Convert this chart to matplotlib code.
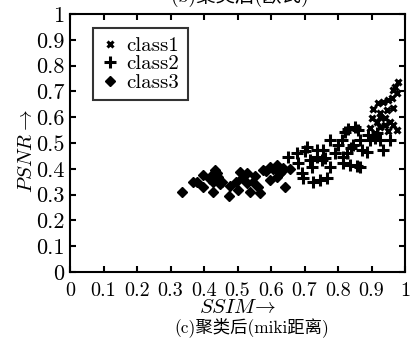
import matplotlib
matplotlib.use("Agg")
import matplotlib.pyplot as plt

# class3 (diamonds)
c3_x = [0.333, 0.368, 0.378, 0.398, 0.398, 0.418, 0.423, 0.428, 0.433, 0.443, 0.453,
        0.428, 0.438, 0.448, 0.478, 0.476, 0.507, 0.527, 0.497, 0.502, 0.527, 0.537,
        0.547, 0.562, 0.567, 0.577, 0.597, 0.617, 0.637, 0.597, 0.617, 0.627, 0.642,
        0.512, 0.552, 0.585, 0.607, 0.657, 0.632]
c3_y = [0.311, 0.348, 0.350, 0.376, 0.328, 0.361, 0.376, 0.350, 0.395, 0.369, 0.350,
        0.311, 0.385, 0.340, 0.333, 0.295, 0.389, 0.382, 0.350, 0.318, 0.344, 0.311,
        0.350, 0.331, 0.305, 0.395, 0.408, 0.415, 0.405, 0.357, 0.369, 0.382, 0.331,
        0.365, 0.372, 0.390, 0.398, 0.398, 0.392]

# class2 (plus)
c2_x = [0.652, 0.677, 0.682, 0.692, 0.697, 0.706, 0.716, 0.721, 0.726, 0.746, 0.766,
        0.736, 0.756, 0.736, 0.751, 0.776, 0.776, 0.791, 0.801, 0.811, 0.821, 0.831,
        0.851, 0.861, 0.816, 0.826, 0.816, 0.836, 0.856, 0.866, 0.846, 0.866, 0.871,
        0.886, 0.891, 0.896, 0.910, 0.915, 0.925, 0.935, 0.955, 0.700, 0.760, 0.840]
c2_y = [0.447, 0.460, 0.421, 0.382, 0.363, 0.486, 0.434, 0.408, 0.350, 0.357, 0.363,
        0.473, 0.473, 0.447, 0.434, 0.408, 0.512, 0.460, 0.492, 0.512, 0.544, 0.556,
        0.563, 0.550, 0.447, 0.460, 0.421, 0.415, 0.411, 0.406, 0.492, 0.512, 0.473,
        0.466, 0.531, 0.512, 0.518, 0.538, 0.512, 0.473, 0.512, 0.470, 0.440, 0.480]

# class1 (x)
c1_x = [0.900, 0.915, 0.925, 0.925, 0.940, 0.896, 0.910, 0.920, 0.935, 0.950, 0.960,
        0.925, 0.945, 0.965, 0.940, 0.955, 0.965, 0.975, 0.965, 0.975, 0.970, 0.980,
        0.905, 0.950]
c1_y = [0.596, 0.583, 0.602, 0.563, 0.570, 0.560, 0.540, 0.654, 0.660, 0.667, 0.673,
        0.615, 0.628, 0.634, 0.596, 0.583, 0.570, 0.550, 0.705, 0.693, 0.718, 0.738,
        0.630, 0.545]

plt.rcParams['font.family'] = ['cmr10', 'Noto Sans CJK SC']
plt.rcParams['mathtext.fontset'] = 'cm'
plt.rcParams['axes.unicode_minus'] = False

fig = plt.figure(figsize=(4.11, 3.41), dpi=100)
ax = fig.add_axes([70/411, 1-272/341, 335/411, 258/341])

ax.plot(c1_x, c1_y, 'x', color='black', markersize=4, markeredgewidth=2.2, label='class1')
ax.plot(c2_x, c2_y, '+', color='black', markersize=8, markeredgewidth=2.2, label='class2')
ax.plot(c3_x, c3_y, 'D', color='black', markersize=5.5, label='class3')

ax.set_xlim(0, 1)
ax.set_ylim(0, 1)
ticks = [i/10 for i in range(11)]
labels = ['0'] + ['0.%d' % i for i in range(1, 10)] + ['1']
ax.set_xticks(ticks)
ax.set_xticklabels(labels)
ax.set_yticks(ticks)
ax.set_yticklabels(labels)
ax.tick_params(direction='in', top=True, right=True, length=4, width=1.5)
ax.tick_params(axis='x', labelsize=14.5, pad=7)
ax.tick_params(axis='y', labelsize=16, pad=4)
for s in ax.spines.values():
    s.set_linewidth(1.5)

leg = ax.legend(loc='upper left', bbox_to_anchor=(0.069, 0.946), borderaxespad=0,
                fontsize=15, frameon=True, fancybox=False, edgecolor='black',
                handlelength=0.8, handletextpad=0.4, labelspacing=0.0, borderpad=0.4)
leg.get_frame().set_linewidth(1.5)

ax.set_xlabel(r'$SSIM\!\rightarrow$', fontsize=15, va='center')
ax.xaxis.set_label_coords(0.5, (272-308)/258)
ax.set_ylabel(r'$PSNR\rightarrow$', fontsize=15, va='center')
ax.yaxis.set_label_coords((27-70)/335, 0.47)

fig.text(252/411, 1-327/341, '(c)聚类后(miki距离)', fontsize=12.5, ha='center', va='center')
fig.text(240/411, 1+4/341, '(b)聚类后(欧氏)', fontsize=14, ha='center', va='center')

fig.savefig('out.png', dpi=100)
